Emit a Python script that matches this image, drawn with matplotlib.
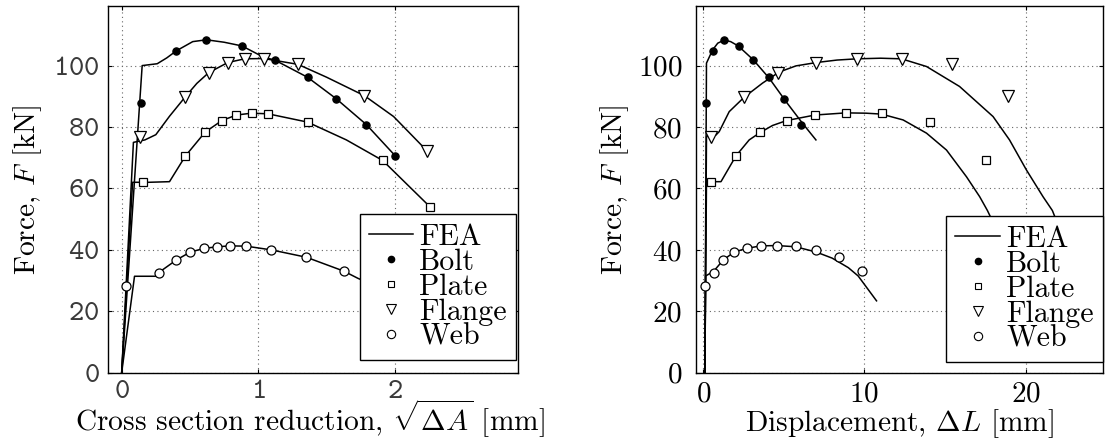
import matplotlib
matplotlib.use('Agg')
import matplotlib.pyplot as plt
from matplotlib.lines import Line2D

# ---------------- data: left panel (sqrt(dA) in mm, force in kN) ----------------
bolt_fea_a_x = [0, 0.15, 0.26, 0.33, 0.40, 0.52, 0.62, 0.75, 0.88, 1.04, 1.12, 1.36, 1.57, 1.79, 2.0]
bolt_fea_a_y = [0, 100, 100.6, 102.5, 104.8, 107.8, 108.4, 107.6, 106.4, 102.7, 101.8, 96.2, 89.2, 80.8, 70.7]
bolt_test_a_x = [0.14, 0.40, 0.615, 0.88, 1.12, 1.36, 1.57, 1.79, 2.0]
bolt_test_a_y = [87.7, 104.8, 108.4, 106.4, 101.8, 96.2, 89.2, 80.8, 70.7]

flange_fea_a_x = [0, 0.086, 0.17, 0.25, 0.35, 0.467, 0.55, 0.637, 0.777, 0.90, 1.04, 1.29, 1.5, 1.776, 1.99, 2.235]
flange_fea_a_y = [0, 75, 75.8, 77.5, 83.5, 89.9, 94.2, 97.7, 101, 102.2, 102.3, 100.4, 96.2, 90.2, 83.4, 72.2]
flange_test_a_x = [0.132, 0.467, 0.637, 0.777, 0.90, 1.04, 1.29, 1.776, 2.235]
flange_test_a_y = [76.9, 89.9, 97.7, 101, 102.2, 102.3, 100.4, 90.2, 72.2]

plate_fea_a_x = [0, 0.08, 0.2, 0.35, 0.467, 0.61, 0.733, 0.84, 0.95, 1.07, 1.36, 1.644, 1.91, 2.254]
plate_fea_a_y = [0, 62, 62, 62.2, 70.6, 78.3, 82.1, 83.9, 84.5, 84.3, 81.6, 75.8, 69.1, 54.1]
plate_test_a_x = [0.157, 0.467, 0.61, 0.733, 0.84, 0.95, 1.07, 1.36, 1.91, 2.254]
plate_test_a_y = [62, 70.6, 78.3, 82.1, 83.9, 84.5, 84.3, 81.6, 69.1, 54.1]

web_fea_a_x = [0, 0.094, 0.18, 0.25, 0.271, 0.40, 0.503, 0.606, 0.70, 0.794, 0.911, 1.094, 1.351, 1.624, 1.73, 1.9]
web_fea_a_y = [0, 31.4, 31.4, 31.4, 32.6, 36.7, 39.3, 40.5, 41.0, 41.3, 41.2, 40.0, 37.6, 33.1, 30.7, 27.5]
web_test_a_x = [0.034, 0.271, 0.40, 0.503, 0.606, 0.70, 0.794, 0.911, 1.094, 1.351, 1.624]
web_test_a_y = [28.1, 32.6, 36.7, 39.3, 40.5, 41.0, 41.3, 41.2, 40.0, 37.6, 33.1]

# ---------------- data: right panel (displacement in mm, force in kN) ----------------
bolt_fea_d_x = [0.1, 0.2, 0.58, 0.9, 1.3, 1.7, 2.17, 3.1, 4.09, 5.13, 6.16, 6.99]
bolt_fea_d_y = [0, 100.8, 105.1, 107.3, 108.3, 107.8, 106.4, 101.9, 95.9, 88.3, 81.2, 75.8]
bolt_test_d_x = [0.15, 0.6, 1.28, 2.19, 3.08, 4.09, 5.02, 6.04]
bolt_test_d_y = [87.7, 104.8, 108.4, 106.4, 101.9, 96.2, 89.2, 80.8]

flange_fea_d_x = [0.1, 0.2, 0.79, 0.99, 1.61, 2.54, 3.68, 4.71, 5.75, 7.03, 8.3, 9.53, 11.0, 12.3, 13.85, 15.9, 17.98, 19.0, 20.05, 21.08, 21.66, 23.0]
flange_fea_d_y = [0, 76.9, 77.4, 78.5, 85.0, 89.7, 94.3, 97.9, 99.9, 101.0, 101.8, 102.2, 102.4, 102.2, 99.7, 93.2, 83.4, 75.8, 66.0, 57.3, 52.8, 35]
flange_test_d_x = [0.46, 2.5, 4.65, 7.0, 9.51, 12.3, 15.44, 18.9]
flange_test_d_y = [76.9, 89.9, 97.7, 101, 102.3, 102.2, 100.4, 90.2]

plate_fea_d_x = [0.1, 0.2, 1.1, 2.03, 2.85, 3.53, 4.3, 5.17, 6.93, 8.85, 10.1, 11.06, 12.4, 13.85, 15.09, 16.33, 17.15, 17.63, 18.8]
plate_fea_d_y = [0, 62.2, 62.2, 70.6, 75.8, 78.2, 80.5, 82.1, 83.9, 84.6, 84.5, 84.2, 82.3, 78.0, 72.5, 63.8, 57.3, 52.8, 40]
plate_test_d_x = [0.48, 2.03, 3.52, 5.17, 6.93, 8.83, 11.08, 14.05, 17.57]
plate_test_d_y = [62, 70.6, 78.3, 82.1, 83.9, 84.5, 84.4, 81.7, 69.1]

web_fea_d_x = [0.1, 0.15, 0.64, 1.24, 1.92, 2.71, 3.58, 4.57, 5.73, 7.0, 8.0, 9.0, 9.61, 10.75]
web_fea_d_y = [0, 31.5, 33.0, 36.7, 39.3, 40.5, 41.3, 41.4, 41.0, 39.3, 37.3, 34.2, 31.5, 23.4]
web_test_d_x = [0.13, 0.64, 1.24, 1.92, 2.71, 3.58, 4.57, 5.73, 7.0, 8.41, 9.84]
web_test_d_y = [28.1, 32.6, 36.7, 39.3, 40.5, 41.3, 41.4, 41.2, 40.1, 37.6, 33.1]

legend_labels = ['FEA', 'Bolt', 'Plate', 'Flange', 'Web']
xticks_a = [0, 1, 2]
xticks_d = [0, 10, 20]
yticks = [0, 20, 40, 60, 80, 100]

# ---------------- style ----------------
plt.rcParams['font.family'] = ['cmr10']
plt.rcParams['mathtext.fontset'] = 'cm'
plt.rcParams['axes.formatter.use_mathtext'] = True
plt.rcParams['font.size'] = 21
plt.rcParams['axes.unicode_minus'] = False

LABEL_FS = 21.2
TICK_FS = 21
LEG_FS = 21.5

W, H = 1105, 446
fig = plt.figure(figsize=(W / 100, H / 100), dpi=100)
ax1 = fig.add_axes([108 / W, (H - 372.7) / H, 410 / W, 366.7 / H])
ax2 = fig.add_axes([696 / W, (H - 372.7) / H, 407 / W, 366.7 / H])

lw = 1.1
mk = dict(linestyle='none', markeredgecolor='black', markeredgewidth=0.9, zorder=4)


def draw(ax, fea, tests):
    for x, y in fea:
        ax.plot(x, y, color='black', lw=lw, zorder=3)
    (bx, by), (px, py), (fx, fy), (wx, wy) = tests
    ax.plot(bx, by, marker='o', markersize=5.2, markerfacecolor='black', **mk)
    ax.plot(px, py, marker='s', markersize=6, markerfacecolor='white', **mk)
    ax.plot(fx, fy, marker='v', markersize=8.5, markerfacecolor='white', **mk)
    ax.plot(wx, wy, marker='o', markersize=6.5, markerfacecolor='white', **mk)


draw(ax1,
     [(bolt_fea_a_x, bolt_fea_a_y), (flange_fea_a_x, flange_fea_a_y),
      (plate_fea_a_x, plate_fea_a_y), (web_fea_a_x, web_fea_a_y)],
     [(bolt_test_a_x, bolt_test_a_y), (plate_test_a_x, plate_test_a_y),
      (flange_test_a_x, flange_test_a_y), (web_test_a_x, web_test_a_y)])
draw(ax2,
     [(bolt_fea_d_x, bolt_fea_d_y), (flange_fea_d_x, flange_fea_d_y),
      (plate_fea_d_x, plate_fea_d_y), (web_fea_d_x, web_fea_d_y)],
     [(bolt_test_d_x, bolt_test_d_y), (plate_test_d_x, plate_test_d_y),
      (flange_test_d_x, flange_test_d_y), (web_test_d_x, web_test_d_y)])

ax1.set_xlim(-0.1, 2.9)
ax2.set_xlim(-0.45, 24.8)
for ax in (ax1, ax2):
    ax.set_ylim(0, 119.4)
    ax.set_yticks(yticks)
    ax.grid(True, color='#666666', linestyle=(0, (1, 3)), linewidth=0.8)
    ax.set_axisbelow(True)
    ax.tick_params(direction='in', length=3, width=0.8, top=True, right=True, labelsize=TICK_FS)
    for s in ax.spines.values():
        s.set_linewidth(1.0)
    ax.set_ylabel('Force, $F$ [kN]', fontsize=LABEL_FS, va='bottom')

ax1.set_xticks(xticks_a)
ax2.set_xticks(xticks_d)
ax1.tick_params(axis='y', pad=6)
ax1.tick_params(axis='x', pad=5)
ax2.tick_params(axis='y', pad=10)
ax2.tick_params(axis='x', pad=6)
for lbl in ax1.get_xticklabels() + ax1.get_yticklabels():
    lbl.set_fontfamily('cmtt10')
    lbl.set_color('#3a3a3a')

ax1.set_xlabel(r'Cross section reduction, $\sqrt{\Delta A}$ [mm]', fontsize=LABEL_FS, va='baseline')
ax2.set_xlabel(r'Displacement, $\Delta L$ [mm]', fontsize=LABEL_FS, va='baseline')
ax1.xaxis.set_label_coords(0.493, (372.7 - 431) / 366.7)
ax2.xaxis.set_label_coords(0.5, (372.7 - 431) / 366.7)
ax1.yaxis.set_label_coords((44 - 108) / 410, 0.5)
ax2.yaxis.set_label_coords((631 - 696) / 407, 0.5)

handles = [
    Line2D([], [], color='black', lw=lw),
    Line2D([], [], linestyle='none', marker='o', markersize=4.5, markerfacecolor='black', markeredgecolor='black'),
    Line2D([], [], linestyle='none', marker='s', markersize=5, markerfacecolor='white', markeredgecolor='black', markeredgewidth=0.8),
    Line2D([], [], linestyle='none', marker='v', markersize=6.5, markerfacecolor='white', markeredgecolor='black', markeredgewidth=0.8),
    Line2D([], [], linestyle='none', marker='o', markersize=6, markerfacecolor='white', markeredgecolor='black', markeredgewidth=0.8),
]
for ax, anchor in ((ax1, (0.995, 0.035)), (ax2, (0.999, 0.03))):
    leg = ax.legend(handles, legend_labels, loc='lower right', bbox_to_anchor=anchor,
                    borderaxespad=0, fancybox=False, edgecolor='black', framealpha=1,
                    labelspacing=-0.08, handlelength=1.5, handletextpad=0.2,
                    borderpad=0.3, fontsize=LEG_FS)
    leg.get_frame().set_linewidth(1.0)
    leg.set_zorder(10)

fig.savefig('out.png', dpi=100)
